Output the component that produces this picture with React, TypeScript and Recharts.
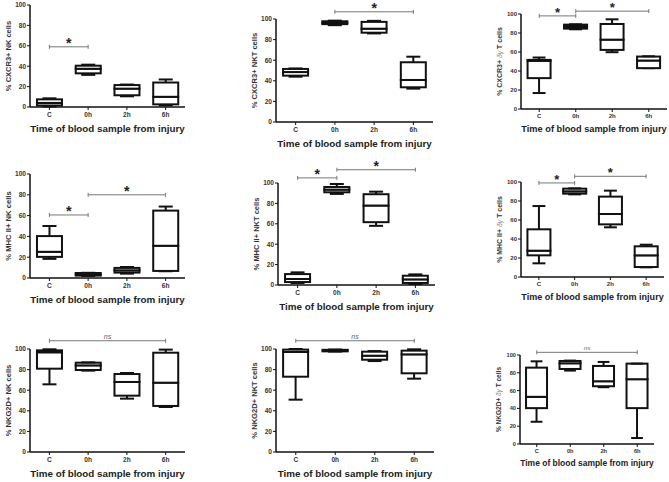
import React from 'react'
import { ComposedChart, Bar, XAxis, YAxis, ReferenceLine } from 'recharts'

const categories = ['C', '0h', '2h', '6h']
const yTicks = [0, 20, 40, 60, 80, 100]
const xTitle = 'Time of blood sample from injury'

// each entry: [min, q1, median, q3, max] for C, 0h, 2h, 6h
const cxcr3Nk = [[0.5, 1.5, 4, 7.5, 8.5], [31.5, 33, 37.5, 40.5, 41.5], [10.5, 11.5, 18, 21.5, 22], [1.6, 2.6, 10, 24, 27]]
const cxcr3Nkt = [[44, 45, 48.5, 51.5, 52], [94, 95, 96.4, 97.8, 98.4], [86, 86.7, 90.6, 97.2, 98.2], [32.4, 33.7, 40.8, 58, 63.4]]
const cxcr3Gd = [[16.8, 32.5, 50.7, 51.7, 54.2], [83.9, 84.6, 86.7, 88.8, 89.2], [59.8, 62.2, 73, 89.5, 94.4], [43, 43, 51, 55.2, 55.5]]
const mhcNk = [[18.4, 20.3, 25.2, 40.3, 50], [2, 2.3, 3.5, 4.8, 5], [4.2, 5.2, 7.4, 9.7, 10.6], [6.5, 6.8, 31, 64.8, 68.7]]
const mhcNkt = [[2, 2.9, 5.9, 10.7, 12.4], [89.3, 90.9, 93.5, 96.1, 99], [58, 61.6, 77.9, 89, 91.5], [1, 2, 5.5, 9.1, 10.4]]
const mhcGd = [[14.4, 22.8, 27.7, 50.2, 74.7], [87, 87.7, 90.2, 93, 93.3], [52.3, 55.4, 66.3, 84.6, 90.9], [10.2, 10.5, 22.8, 32.3, 34]]
const nkg2dNk = [[65.7, 80.9, 96.8, 98.7, 99.7], [79, 79.6, 84.1, 86.7, 87], [51.8, 54.7, 68, 75.7, 76.7], [43.7, 44.7, 67.3, 96.4, 99.4]]
const nkg2dNkt = [[50.8, 73.1, 97.1, 99.4, 100], [97.5, 97.7, 98.5, 99.2, 99.5], [88.3, 89.6, 93.5, 97.4, 98], [71.2, 76.4, 94.8, 98.4, 99.7]]
const nkg2dGd = [[25, 40.3, 53, 85.8, 92.9], [82.5, 84.3, 90.7, 93.3, 93.7], [63.8, 64.9, 70.5, 87.7, 92.2], [6.7, 40.3, 72.8, 90.3, 90.3]]

const font = '"Liberation Sans", Arial, sans-serif'
const W = 669
const H = 482

type Bracket = { from: string; to: string; y: number; text: string }
type Panel = {
  marker: string
  gd: boolean
  data: number[][]
  // plot frame: y-axis x, x-axis end, pixel y of 100, pixel y of 0
  frame: [number, number, number, number]
  brackets: Bracket[]
}

const panels: Panel[] = [
  { marker: 'CXCR3+', gd: false, data: cxcr3Nk, frame: [30, 185, 5, 107], brackets: [{ from: 'C', to: '0h', y: 59, text: '*' }] },
  { marker: 'CXCR3+', gd: false, data: cxcr3Nkt, frame: [276, 433, 19, 122], brackets: [{ from: '0h', to: '6h', y: 107, text: '*' }] },
  { marker: 'CXCR3+', gd: true, data: cxcr3Gd, frame: [521, 667, 14, 109], brackets: [{ from: 'C', to: '0h', y: 98, text: '*' }, { from: '0h', to: '6h', y: 103, text: '*' }] },
  { marker: 'MHC II+', gd: false, data: mhcNk, frame: [30, 185, 174, 278], brackets: [{ from: 'C', to: '0h', y: 60.6, text: '*' }, { from: '0h', to: '6h', y: 80, text: '*' }] },
  { marker: 'MHC II+', gd: false, data: mhcNkt, frame: [278, 435, 183, 285], brackets: [{ from: 'C', to: '0h', y: 105, text: '*' }, { from: '0h', to: '6h', y: 113, text: '*' }] },
  { marker: 'MHC II+', gd: true, data: mhcGd, frame: [521, 664, 182, 277], brackets: [{ from: 'C', to: '0h', y: 99, text: '*' }, { from: '0h', to: '6h', y: 106, text: '*' }] },
  { marker: 'NKG2D+', gd: false, data: nkg2dNk, frame: [30, 185, 349, 452], brackets: [{ from: 'C', to: '6h', y: 108, text: 'ns' }] },
  { marker: 'NKG2D+', gd: false, data: nkg2dNkt, frame: [276, 434, 349, 452], brackets: [{ from: 'C', to: '6h', y: 108, text: 'ns' }] },
  { marker: 'NKG2D+', gd: true, data: nkg2dGd, frame: [520, 654, 355, 444], brackets: [{ from: 'C', to: '6h', y: 103, text: 'ns' }] },
]
const cellNames = ['NK cells', 'NKT cells', 'T cells']

const toRows = (boxes: number[][]) =>
  categories.map((cat, i) => {
    const [mn, q1, md, q3, mx] = boxes[i]
    return { cat, base: mn, lowW: q1 - mn, lowBox: md - q1, upBox: q3 - md, upW: mx - q3 }
  })

const Empty = () => <g />

const whisker = (top: boolean) => (p: any) => {
  const { x, y, width, height } = p
  const cx = x + width / 2
  const capY = top ? y : y + height
  const half = width * 0.28
  return (
    <g>
      <line x1={cx} x2={cx} y1={y} y2={y + height} stroke="#111" strokeWidth={2} />
      <line x1={cx - half} x2={cx + half} y1={capY} y2={capY} stroke="#111" strokeWidth={2} />
    </g>
  )
}

const BoxPart = (p: any) => (
  <rect x={p.x} y={p.y} width={p.width} height={Math.max(p.height, 0)} fill="#fff" stroke="#111" strokeWidth={2} />
)

const bracketShape = (text: string, s: number) => (p: any) => {
  const { x1, y1, x2 } = p
  const mid = (x1 + x2) / 2
  return (
    <g>
      <line x1={x1} x2={x2} y1={y1} y2={y1} stroke="#777" strokeWidth={1} />
      <line x1={x1} x2={x1} y1={y1 - 2} y2={y1 + 2} stroke="#777" strokeWidth={1} />
      <line x1={x2} x2={x2} y1={y1 - 2} y2={y1 + 2} stroke="#777" strokeWidth={1} />
      {text === '*' ? (
        <text x={mid} y={y1 + 1} textAnchor="middle" fontSize={14 * s} fontWeight={700} fill="#222" fontFamily={font}>*</text>
      ) : (
        <text x={mid} y={y1 - 2} textAnchor="middle" fontSize={7 * s} fontStyle="italic" fill="#666" fontFamily={font}>{text}</text>
      )}
    </g>
  )
}

function BoxPanel({ panel, idx }: { panel: Panel; idx: number }) {
  const [ax, xEnd, y100, y0] = panel.frame
  const rows = toRows(panel.data)
  const cell = cellNames[idx % 3]
  const s = (y0 - y100) / 102
  const tw = (xEnd - ax) / 155
  const tickStyle = { fontSize: 6.5 * s, fontWeight: 700, fill: '#333', fontFamily: font }

  const yLabel = (props: any) => {
    const vb = props.viewBox || { x: ax - 30, y: y100, width: 30, height: y0 - y100 }
    const cx = vb.x + 8
    const cy = vb.y + vb.height / 2
    return (
      <text x={cx} y={cy} transform={`rotate(-90 ${cx} ${cy})`} textAnchor="middle" dominantBaseline="central"
        fontSize={7.5 * s} fontWeight={700} fill="#333" fontFamily={font}>
        {'% ' + panel.marker + ' '}
        {panel.gd ? <tspan fontStyle="italic" fontWeight={400} fill="#888">δγ </tspan> : null}
        {cell}
      </text>
    )
  }

  const xLabel = (props: any) => {
    const vb = props.viewBox || { x: ax, y: y0, width: xEnd - ax, height: 30 }
    return (
      <text x={vb.x + vb.width / 2} y={vb.y + 25 * s} textAnchor="middle" fontSize={9.8 * Math.min(tw, 1)} fontWeight={700} fill="#222" fontFamily={font}>
        {xTitle}
      </text>
    )
  }

  return (
    <div style={{ position: 'absolute', left: 0, top: 0 }}>
      <ComposedChart
        width={W}
        height={H}
        data={rows}
        margin={{ left: ax - 30, right: W - xEnd, top: y100, bottom: Math.max(H - y0 - 30, 0) }}
        barCategoryGap="18%"
      >
        <XAxis
          dataKey="cat"
          height={30}
          interval={0}
          axisLine={{ stroke: '#111', strokeWidth: 1.5 }}
          tickLine={{ stroke: '#111' }}
          tickSize={3}
          tickMargin={2}
          tick={tickStyle}
          label={{ content: xLabel }}
        />
        <YAxis
          width={30}
          domain={[0, 100]}
          ticks={yTicks}
          interval={0}
          axisLine={{ stroke: '#111', strokeWidth: 1.5 }}
          tickLine={{ stroke: '#111' }}
          tickSize={3}
          tickMargin={1}
          tick={tickStyle}
          label={{ content: yLabel }}
        />
        <Bar dataKey="base" stackId="b" shape={Empty} isAnimationActive={false} />
        <Bar dataKey="lowW" stackId="b" shape={whisker(false)} isAnimationActive={false} />
        <Bar dataKey="lowBox" stackId="b" shape={BoxPart} isAnimationActive={false} />
        <Bar dataKey="upBox" stackId="b" shape={BoxPart} isAnimationActive={false} />
        <Bar dataKey="upW" stackId="b" shape={whisker(true)} isAnimationActive={false} />
        {panel.brackets.map((b, i) => (
          <ReferenceLine
            key={i}
            ifOverflow="visible"
            segment={[{ x: b.from, y: b.y }, { x: b.to, y: b.y }]}
            shape={bracketShape(b.text, s)}
          />
        ))}
      </ComposedChart>
    </div>
  )
}

export default function App() {
  return (
    <div style={{ position: 'absolute', left: 0, top: 0, width: W, height: H, background: '#fff' }}>
      {panels.map((p, i) => (
        <BoxPanel key={i} panel={p} idx={i} />
      ))}
    </div>
  )
}
